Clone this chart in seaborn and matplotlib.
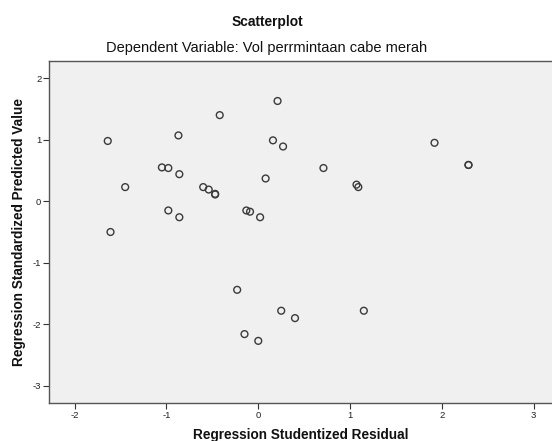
import matplotlib
matplotlib.use("Agg")
import matplotlib.pyplot as plt
import seaborn as sns
import pandas as pd

studentized_residual = [-1.64, -0.87, -0.42, 0.21, 0.16, 0.27, -1.45, -1.05, -0.98, -0.86,
                        -0.60, -0.54, -0.47, -0.47, 0.08, -0.98, -0.86, -1.61, -0.13, -0.09,
                        0.02, 0.71, 1.07, 1.09, 1.92, 2.29, 2.29, -0.23, -0.15, 0.00,
                        0.25, 0.40, 1.15]
standardized_predicted = [0.98, 1.07, 1.40, 1.63, 0.99, 0.89, 0.23, 0.55, 0.54, 0.44,
                          0.23, 0.19, 0.11, 0.12, 0.37, -0.15, -0.26, -0.50, -0.15, -0.17,
                          -0.26, 0.54, 0.27, 0.23, 0.95, 0.59, 0.59, -1.44, -2.16, -2.27,
                          -1.78, -1.90, -1.78]
x_ticks = [-2, -1, 0, 1, 2, 3]
y_ticks = [-3, -2, -1, 0, 1, 2]

df = pd.DataFrame({"x": studentized_residual, "y": standardized_predicted})

sns.set_style("white")
plt.rcParams["font.family"] = ["Liberation Sans", "DejaVu Sans"]

fig = plt.figure(figsize=(5.52, 4.41), dpi=100)
ax = fig.add_axes([49/552, 1-403/441, 1-49/552, (403-61)/441])
ax.set_facecolor("#f0f0f0")

sns.scatterplot(data=df, x="x", y="y", ax=ax, s=24, marker="o",
                facecolors="none", edgecolor="#3a3a3a", linewidth=1.0)

ax.set_xlim(-2.28, 3.20)
ax.set_ylim(-3.28, 2.28)
ax.set_xticks(x_ticks)
ax.set_yticks(y_ticks)
ax.set_xticklabels([str(t) for t in x_ticks])
ax.set_yticklabels([str(t) for t in y_ticks])
ax.tick_params(axis="both", direction="out", length=4, width=0.8, color="#333333",
               labelsize=6.8, labelcolor="#222222", pad=1.5,
               bottom=True, left=True)
for side in ["left", "bottom", "top"]:
    ax.spines[side].set_color("#555555")
    ax.spines[side].set_linewidth(1.0)
ax.spines["right"].set_visible(False)

ax.set_xlabel("Regression Studentized Residual", fontsize=9.8, fontweight="bold",
              color="#111111", labelpad=6)
ax.set_ylabel("Regression Standardized Predicted Value", fontsize=9.8, fontweight="bold",
              color="#111111", labelpad=5)

fig.text(267/552, 1-22/441, "Scatterplot", ha="center", va="center",
         fontsize=9.9, fontweight="bold", color="#111111")
fig.text(267/552, 1-48/441, "Dependent Variable: Vol perrmintaan cabe merah",
         ha="center", va="center", fontsize=10.5, color="#111111")

fig.savefig("out.png", dpi=100)
